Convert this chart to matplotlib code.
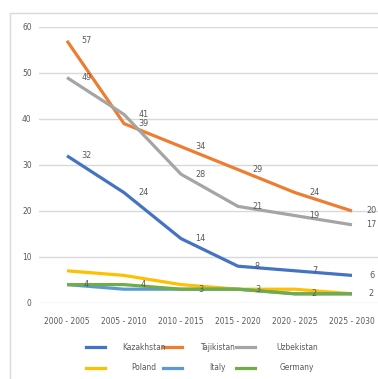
import matplotlib
matplotlib.use("Agg")
import matplotlib.pyplot as plt
from matplotlib.patches import Rectangle
from matplotlib.lines import Line2D

periods = ["2000 - 2005", "2005 - 2010", "2010 - 2015",
           "2015 - 2020", "2020 - 2025", "2025 - 2030"]

kazakhstan = [32, 24, 14, 8, 7, 6]
tajikistan = [57, 39, 34, 29, 24, 20]
uzbekistan = [49, 41, 28, 21, 19, 17]
poland = [7, 6, 4, 3, 3, 2]
italy = [4, 3, 3, 3, 2, 2]
germany = [4, 4, 3, 3, 2, 2]

names = ["Kazakhstan", "Tajikistan", "Uzbekistan", "Poland", "Italy", "Germany"]
series = [kazakhstan, tajikistan, uzbekistan, poland, italy, germany]
colors = ["#4472C4", "#ED7D31", "#A5A5A5", "#FFC000", "#5B9BD5", "#70AD47"]
labelled = ["Kazakhstan", "Tajikistan", "Uzbekistan", "Germany"]

plt.rcParams['font.family'] = ['DejaVu Sans']
plt.rcParams['font.stretch'] = 'condensed'
txt = "#595959"
fs = 6

W, H = 378, 379
fig = plt.figure(figsize=(W / 100, H / 100), dpi=100)

# chart frame
fig.add_artist(Rectangle((10 / W, -0.1), 1.2, 1 - 13 / H + 0.1,
                         transform=fig.transFigure, fill=False,
                         ec="#D9D9D9", lw=1))

ax = fig.add_axes([38.5 / W, 1 - 303 / H, 342 / W, 276 / H])
ax.set_xlim(-0.5, 5.5)
ax.set_ylim(0, 60)
ax.set_yticks(range(0, 61, 10))
ax.set_xticks(range(len(periods)))
ax.set_xticklabels(periods)
for s in ax.spines.values():
    s.set_visible(False)
ax.grid(axis="y", color="#D9D9D9", lw=1)
ax.set_axisbelow(True)
ax.tick_params(length=0, labelsize=fs, colors=txt)
ax.tick_params(axis="x", pad=10)
ax.tick_params(axis="y", pad=5)

x = list(range(len(periods)))
for name, vals, c in zip(names, series, colors):
    ax.plot(x, vals, color=c, lw=2.3, clip_on=False, solid_capstyle="butt")
for name, vals in zip(names, series):
    if name in labelled:
        for xi, v in zip(x, vals):
            ax.annotate(str(v), (xi, v), xytext=(14, 0), textcoords="offset points",
                        ha="center", va="center", fontsize=fs + 0.5, color=txt)

# legend, laid out like the Excel one
handle_x = [86, 163, 236]
label_cx = [144, 218, 297]
rows_y = [347, 368]
for i, (name, c) in enumerate(zip(names, colors)):
    r, col = divmod(i, 3)
    yy = 1 - rows_y[r] / H
    x0 = handle_x[col]
    fig.add_artist(Line2D([x0 / W, (x0 + 19) / W], [yy, yy], color=c, lw=2.3,
                          transform=fig.transFigure))
    fig.text(label_cx[col] / W, yy, name, ha="center", va="center",
             fontsize=fs, color=txt)

fig.savefig("out.png", dpi=100)
